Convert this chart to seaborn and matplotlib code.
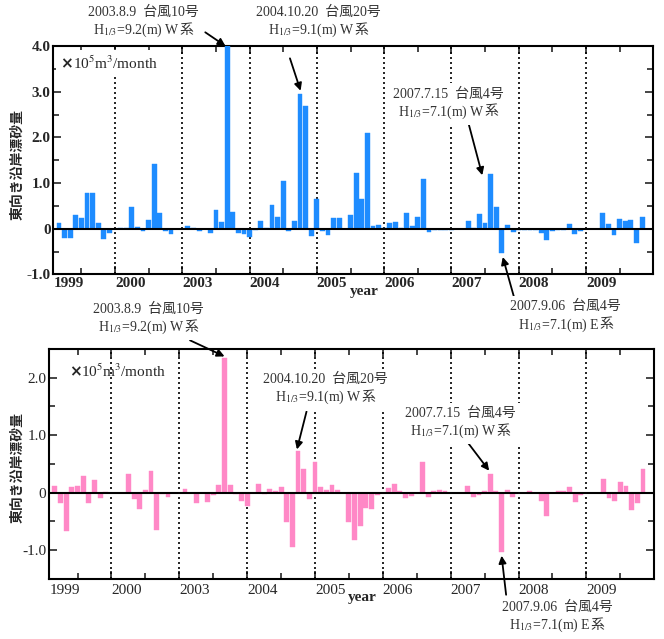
import numpy as np
import pandas as pd
import matplotlib
matplotlib.use("Agg")
import matplotlib.pyplot as plt
from matplotlib.offsetbox import TextArea, HPacker, VPacker, AnnotationBbox
import seaborn as sns

# ---------------- data ----------------
years = ['1999', '2000', '2003', '2004', '2005', '2006', '2007', '2008', '2009']
N = None
# upper panel (x10^5 m3/month), 12 values per year
upper_values = [
    N, 0.12, -0.20, -0.20, 0.30, 0.23, 0.78, 0.79, 0.13, -0.23, -0.10, N,          # 1999
    0.02, 0.02, 0.47, 0.03, -0.06, 0.20, 1.41, 0.34, -0.04, -0.11, N, N,            # 2000
    0.07, 0.01, -0.06, N, -0.10, 0.41, 0.15, 4.00, 0.36, -0.10, -0.12, -0.18,       # 2003
    -0.02, 0.17, 0.01, 0.52, 0.26, 1.04, -0.06, 0.17, 2.95, 2.68, -0.17, 0.65,      # 2004
    -0.06, -0.14, 0.23, 0.23, N, 0.31, 1.23, 0.65, 2.09, 0.07, 0.09, 0.01,          # 2005
    0.12, 0.15, 0.01, 0.34, 0.06, 0.25, 1.08, -0.08, -0.02, -0.02, -0.02, -0.02,    # 2006
    N, N, 0.17, 0.01, 0.32, 0.12, 1.20, 0.47, -0.54, 0.09, -0.08, -0.02,            # 2007
    -0.02, -0.02, -0.02, -0.09, -0.25, -0.06, -0.02, -0.02, 0.10, -0.12, -0.06, N,  # 2008
    N, N, 0.34, 0.11, -0.13, 0.21, 0.17, 0.20, -0.32, 0.26, N, N,                   # 2009
]
# lower panel
lower_values = [
    N, 0.12, -0.19, -0.67, 0.09, 0.12, 0.29, -0.19, 0.22, -0.10, 0.01, N,          # 1999
    -0.01, N, 0.32, -0.12, -0.28, 0.04, 0.38, -0.65, -0.03, -0.07, N, N,            # 2000
    0.06, N, -0.18, N, -0.17, -0.05, 0.13, 2.34, 0.13, -0.03, -0.14, -0.23,         # 2003
    N, 0.15, -0.03, 0.06, 0.03, 0.09, -0.52, -0.94, 0.72, 0.41, -0.12, 0.53,        # 2004
    0.10, 0.05, 0.13, 0.05, N, -0.51, -0.83, -0.58, -0.27, -0.28, -0.04, -0.01,     # 2005
    0.08, 0.15, 0.03, -0.09, -0.06, N, 0.53, -0.08, 0.03, 0.05, 0.03, N,            # 2006
    N, N, 0.12, -0.08, -0.04, 0.02, 0.33, 0.02, -1.04, 0.05, -0.08, N,              # 2007
    N, 0.03, -0.01, -0.14, -0.40, -0.01, 0.03, 0.03, 0.09, -0.16, -0.05, N,         # 2008
    N, N, 0.24, -0.10, -0.14, 0.19, 0.12, -0.30, -0.19, 0.41, N, N,                 # 2009
]

annot_upper = [
    # line1, line2, text pos, arrow tail, arrow head
    ("2003.8.9  台風10号", "H$_{1/3}$=9.2(m) W系", (17.0, 4.52), (28.1, 4.30), (31.7, 4.00)),
    ("2004.10.20  台風20号", "H$_{1/3}$=9.1(m) W系", (48.2, 4.52), (43.2, 3.73), (45.1, 3.02)),
    ("2007.7.15  台風4号", "H$_{1/3}$=7.1(m) W系", (71.4, 2.73), (74.8, 2.42), (77.5, 1.17)),
    ("2007.9.06  台風4号", "H$_{1/3}$=7.1(m) E系", (92.3, -1.93), (83.3, -1.56), (81.15, -0.62)),
]
annot_lower = [
    ("2003.8.9  台風10号", "H$_{1/3}$=9.2(m) W系", (18.5, 3.01), (25.9, 2.65), (32.0, 2.37)),
    ("2004.10.20  台風20号", "H$_{1/3}$=9.1(m) W系", (49.8, 1.79), (46.5, 1.41), (44.8, 0.75)),
    ("2007.7.15  台風4号", "H$_{1/3}$=7.1(m) W系", (73.7, 1.20), (75.1, 0.86), (78.8, 0.38)),
    ("2007.9.06  台風4号", "H$_{1/3}$=7.1(m) E系", (90.8, -2.17), (81.8, -1.78), (81.0, -1.10)),
]

# ---------------- style ----------------
sns.set_style("ticks")
plt.rcParams['font.family'] = ['Liberation Serif', 'Noto Sans CJK JP', 'DejaVu Sans']
plt.rcParams['mathtext.fontset'] = 'stix'

BLUE = '#1E8CFF'
PINK = '#FF88C6'
TXT = '#333333'

fig = plt.figure(figsize=(6.64, 6.39), dpi=100)
ax1 = fig.add_axes([0.0803, 0.5706, 0.9036, 0.3574])
ax2 = fig.add_axes([0.0742, 0.0944, 0.9111, 0.3595])

month_no = np.arange(1, len(upper_values) + 1)


def note_box(line1, line2):
    tp = dict(fontsize=10, color=TXT)
    l1 = TextArea(line1, textprops=tp)
    l2 = HPacker(children=[TextArea(line2[:-1], textprops=tp),
                           TextArea(line2[-1], textprops=tp)],
                 align='baseline', pad=0, sep=0)
    return VPacker(children=[l1, l2], align='center', pad=0, sep=2)


def panel(ax, values, color, ylim, yticks, bold, annots, unit_xy, unit_bg,
          ylab_xy, year_xy, xpad):
    df = pd.DataFrame({'pos': month_no, 'val': values}).dropna()
    sns.barplot(data=df, x='pos', y='val', native_scale=True, color=color,
                saturation=1, width=0.86, errorbar=None, ax=ax, zorder=3,
                edgecolor=color, linewidth=0.3)
    ax.set_xlim(1, 108)
    ax.set_ylim(*ylim)
    w = 'bold' if bold else 'normal'
    for b in range(12, 108, 12):
        ax.axvline(b, color='black', ls=(0, (1.2, 1.8)), lw=1.2, zorder=2)
    ax.axhline(0, color='black', lw=1.5, zorder=4)
    ax.set_xticks([1] + list(range(12, 108, 12)))
    ax.set_xticklabels(years, fontsize=11, fontweight=w)
    for lbl in ax.get_xticklabels():
        lbl.set_horizontalalignment('left')
    ax.set_xticks(list(range(6, 108, 12)), minor=True)
    ax.set_yticks(yticks)
    ax.set_yticklabels(['0' if t == 0 else f'{t:.1f}' for t in yticks],
                       fontsize=11, fontweight=w)
    ax.set_yticks(np.arange(ylim[0], ylim[1] + 0.01, 0.5), minor=True)
    ax.tick_params(axis='both', which='both', direction='in', top=True, right=True,
                   width=1.2)
    ax.tick_params(axis='both', which='major', length=6)
    ax.tick_params(axis='both', which='minor', length=4)
    ax.tick_params(axis='x', which='major', pad=xpad)
    ax.tick_params(axis='y', which='major', pad=2)
    for s in ax.spines.values():
        s.set_linewidth(1.5)
        s.set_color('black')
    ax.set_xlabel('')
    ax.set_ylabel('東向き沿岸漂砂量', family=['Noto Sans CJK JP'], fontweight='bold',
                  fontsize=10)
    ax.yaxis.set_label_coords(*ylab_xy)
    ax.text(year_xy[0], year_xy[1], 'year', transform=ax.transAxes, fontsize=11,
            fontweight='bold', ha='center', va='center')
    unit = HPacker(children=[
        TextArea('×', textprops=dict(fontsize=11, fontweight='bold',
                                     family=['DejaVu Sans'])),
        TextArea('10$^5$m$^3$/month', textprops=dict(fontsize=11))],
        align='baseline', pad=0, sep=0)
    ax.add_artist(AnnotationBbox(unit, unit_xy, xycoords='axes fraction',
                                 box_alignment=(0, 0.5), frameon=unit_bg, pad=0.3,
                                 bboxprops=dict(boxstyle='square', fc='white', ec='none'),
                                 zorder=6))
    for line1, line2, tp, tail, head in annots:
        ax.annotate('', xy=head, xytext=tail, annotation_clip=False,
                    arrowprops=dict(arrowstyle='-|>', color='black', lw=1.3,
                                    mutation_scale=11, shrinkA=0, shrinkB=0),
                    zorder=5)
        ab = AnnotationBbox(note_box(line1, line2), tp, xycoords='data',
                            frameon=True, pad=0.15, annotation_clip=False,
                            bboxprops=dict(boxstyle='square', fc='white', ec='none'),
                            zorder=7)
        ax.add_artist(ab)


panel(ax1, upper_values, BLUE, (-1.0, 4.0), [-1.0, 0, 1.0, 2.0, 3.0, 4.0], True,
      annot_upper, (0.012, 0.925), True, (-0.048, 0.48), (0.518, -0.073), 2)
panel(ax2, lower_values, PINK, (-1.5, 2.5), [-1.0, 0, 1.0, 2.0], False,
      annot_lower, (0.032, 0.904), False, (-0.041, 0.482), (0.517, -0.08), 4)

fig.savefig('out.png', dpi=100)
